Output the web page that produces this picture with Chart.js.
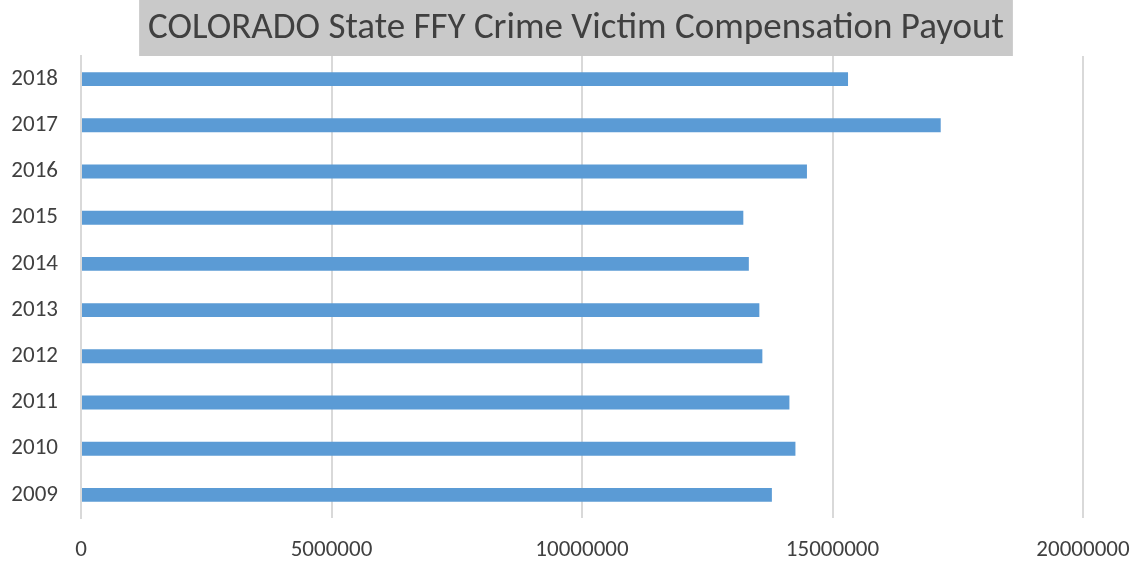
<!DOCTYPE html>
<html>
<head>
<meta charset="utf-8">
<script src="https://cdn.jsdelivr.net/npm/chart.js@4/dist/chart.umd.min.js"></script>
<style>
html,body{margin:0;padding:0;background:#fff;}
#wrap{width:1139px;height:561px;position:relative;}
</style>
</head>
<body>
<div id="wrap"><canvas id="c" width="1139" height="561"></canvas></div>
<script>
const years = ['2009','2010','2011','2012','2013','2014','2015','2016','2017','2018'];
const payouts = [13790000, 14260000, 14140000, 13600000, 13540000, 13330000, 13220000, 14490000, 17160000, 15310000];
const xTicks = [0, 5000000, 10000000, 15000000, 20000000];
const titleText = 'COLORADO State FFY Crime Victim Compensation Payout';

const FONT = 'Carlito, Calibri, "Liberation Sans Narrow", "Open Sans", sans-serif';
const TITLE_SIZE = 37;

const titleBox = {
  id: 'titleBox',
  afterDraw(chart) {
    const ctx = chart.ctx;
    ctx.save();
    ctx.font = TITLE_SIZE + 'px ' + FONT;
    const w = ctx.measureText(titleText).width;
    const cx = 576;
    ctx.fillStyle = '#c9c9c9';
    ctx.fillRect(cx - w / 2 - 9, 0, w + 18, 56);
    ctx.fillStyle = '#404040';
    ctx.textAlign = 'center';
    ctx.textBaseline = 'middle';
    ctx.fillText(titleText, cx, 29);
    ctx.restore();
  }
};

new Chart(document.getElementById('c'), {
  type: 'bar',
  data: {
    labels: years,
    datasets: [{
      data: payouts,
      backgroundColor: '#5b9bd5',
      borderWidth: 0,
      barPercentage: 0.3,
      categoryPercentage: 1.0
    }]
  },
  options: {
    indexAxis: 'y',
    responsive: false,
    animation: false,
    layout: { padding: { left: 0, right: 56, top: 56, bottom: 0 } },
    plugins: {
      legend: { display: false },
      tooltip: { enabled: false },
      title: { display: false }
    },
    scales: {
      x: {
        min: 0,
        max: 20000000,
        afterBuildTicks(scale) { scale.ticks = xTicks.map(v => ({ value: v })); },
        afterFit(scale) { scale.height = 43; scale.paddingRight = 0; scale.paddingLeft = 0; },
        grid: { color: '#d9d9d9', lineWidth: 2, drawTicks: false },
        border: { display: false },
        ticks: {
          color: '#404040',
          font: { family: FONT, size: 23 },
          padding: 18,
          minRotation: 0,
          maxRotation: 0,
          callback: v => String(v)
        }
      },
      y: {
        reverse: true,
        afterFit(scale) { scale.width = 81; },
        grid: { display: false, drawTicks: false },
        border: { display: true, color: '#d9d9d9', width: 2 },
        ticks: {
          color: '#404040',
          font: { family: FONT, size: 23 },
          padding: 23
        }
      }
    }
  },
  plugins: [titleBox]
});
</script>
</body>
</html>
